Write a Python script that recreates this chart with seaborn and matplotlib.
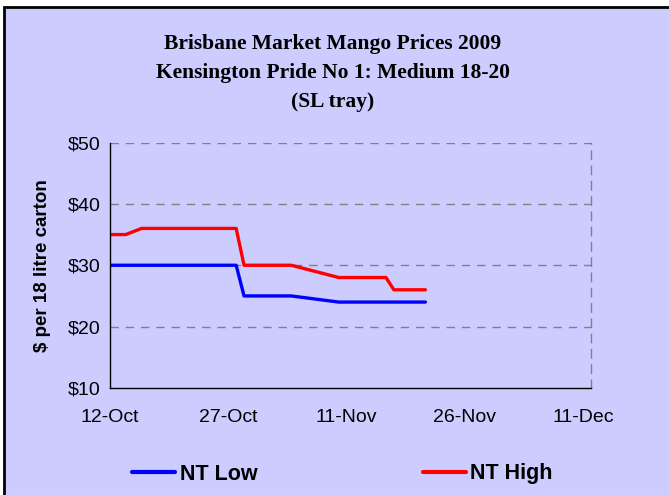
import matplotlib
matplotlib.use("Agg")
import matplotlib.pyplot as plt
import matplotlib.dates as mdates
from matplotlib.patches import Rectangle
from matplotlib.lines import Line2D
import pandas as pd
import seaborn as sns

dates = ["2009-10-12", "2009-10-14", "2009-10-16", "2009-10-28", "2009-10-29",
         "2009-11-04", "2009-11-10", "2009-11-16", "2009-11-17", "2009-11-19", "2009-11-21"]
nt_low = [30, 30, 30, 30, 25, 25, 24, 24, 24, 24, 24]
nt_high = [35, 35, 36, 36, 30, 30, 28, 28, 26, 26, 26]
series_names = ["NT Low", "NT High"]
series_colors = ["#0000FF", "#FF0000"]
title_lines = ["Brisbane Market Mango Prices 2009",
               "Kensington Pride No 1: Medium 18-20",
               "(SL tray)"]
y_label = "$ per 18 litre carton"
y_ticks = [10, 20, 30, 40, 50]
x_ticks = ["2009-10-12", "2009-10-27", "2009-11-11", "2009-11-26", "2009-12-11"]

df = pd.DataFrame({
    "date": pd.to_datetime(dates * 2),
    "price": nt_low + nt_high,
    "series": [series_names[0]] * len(dates) + [series_names[1]] * len(dates),
})

sns.set_style("white")
plt.rcParams["font.family"] = ["Liberation Sans", "DejaVu Sans"]
plt.rcParams["text.color"] = "black"
plt.rcParams["xtick.color"] = "black"
plt.rcParams["ytick.color"] = "black"
plt.rcParams["axes.labelcolor"] = "black"

BG = "#CCCCFF"
W, H = 669, 495
fig = plt.figure(figsize=(W / 100, H / 100), dpi=100, facecolor="white")
fig.patches.append(Rectangle((4 / W, -0.1), 1.2, 1 - 7 / H + 0.1, transform=fig.transFigure,
                             facecolor=BG, edgecolor="black", lw=2, zorder=-10))

ax = fig.add_axes([110 / W, 1 - 388 / H, (591 - 110) / W, (388 - 142.5) / H])
ax.set_facecolor(BG)

sns.lineplot(data=df, x="date", y="price", hue="series", palette=series_colors,
             hue_order=series_names, linewidth=2.4, ax=ax, legend=False)

ax.set_ylim(10, 50)
ax.set_yticks(y_ticks)
ax.set_yticklabels([f"${v}" for v in y_ticks], fontsize=14)
ax.set_xlim(pd.Timestamp("2009-10-12"), pd.Timestamp("2009-12-12"))
ax.set_xticks(pd.to_datetime(x_ticks))
ax.xaxis.set_major_formatter(mdates.DateFormatter("%d-%b"))
for lab in ax.get_xticklabels():
    lab.set_fontsize(14)

ax.set_xlabel("")
ax.set_ylabel(y_label, fontsize=13.5, fontweight="bold", labelpad=12)

for v in y_ticks[1:]:
    ax.axhline(v, color="#808080", lw=1, ls=(0, (6, 5)), zorder=0.5)

for s in ["left", "bottom"]:
    ax.spines[s].set_color("black")
    ax.spines[s].set_linewidth(1)
ax.spines["top"].set_visible(False)
ax.spines["right"].set_color("#808080")
ax.spines["right"].set_linestyle((0, (6, 5)))
ax.spines["right"].set_linewidth(1)

ax.tick_params(axis="y", direction="inout", length=7, width=1, color="black", pad=3)
ax.tick_params(axis="x", direction="out", length=5, width=1, color="black", pad=10)

ys = [44, 73, 102]
for t, y in zip(title_lines, ys):
    fig.text(333 / W, 1 - y / H, t, ha="center", va="center", fontsize=15.5,
             fontweight="bold", family="Liberation Serif", color="black")

handles = [Line2D([], [], color=c, lw=3) for c in series_colors]
fig.legend(handles, series_names, loc="center left", bbox_to_anchor=(113 / W, 1 - 474 / H),
           ncol=2, frameon=False, handlelength=2.0, handletextpad=0.2, columnspacing=7.7,
           prop={"size": 15.5, "weight": "bold"})

fig.savefig("out.png", dpi=100, facecolor="white")
